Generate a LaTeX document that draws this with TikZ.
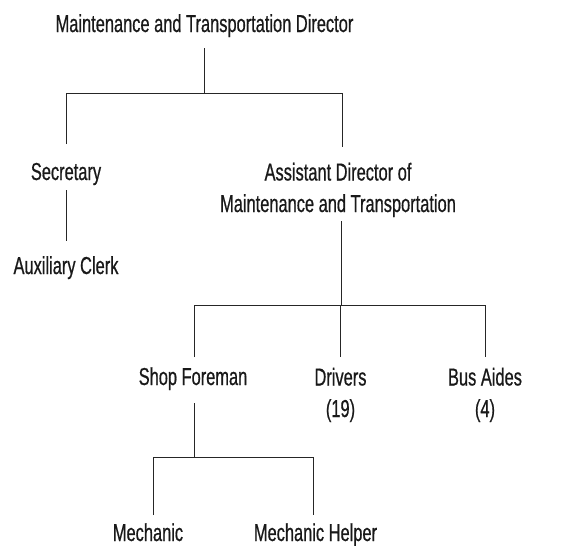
\documentclass[tikz,border=0pt]{standalone}
\usepackage{fontspec}
\setmainfont{Liberation Sans}[FakeStretch=0.67,FakeBold=0.6]
\begin{document}
\begin{tikzpicture}[x=1pt,y=1pt,
  lbl/.style={anchor=base,inner sep=0pt,outer sep=0pt,text=black!90,
    font=\fontsize{24.5}{31.5}\selectfont},
  link/.style={draw=black!85,line width=1pt}]
\useasboundingbox (0,0) rectangle (563,-546);

% positions (base anchor = baseline of the last line)
\node[lbl] (dir) at (204.5,-32) {Maintenance and Transportation Director};
\node[lbl] (sec) at (66,-180) {Secretary};
\node[lbl] (clerk) at (66,-274) {Auxiliary Clerk};
\node[lbl,align=center] (asst) at (338,-212) {Assistant Director of\\Maintenance and Transportation};
\node[lbl] (shop) at (193,-385) {Shop Foreman};
\node[lbl,align=center] (drv) at (340.5,-417) {Drivers\\(19)};
\node[lbl,align=center] (bus) at (485,-417) {Bus Aides\\(4)};
\node[lbl] (mech) at (148,-541) {Mechanic};
\node[lbl] (help) at (315.5,-541) {Mechanic Helper};

% junction levels
\coordinate (j1) at (205,-93);
\coordinate (j2) at (341,-305);
\coordinate (j3) at (194,-457);

% director to secretary and assistant director
\draw[link] ([yshift=-16]dir.base) -- (dir.base |- j1);
\draw[link] ([yshift=36]sec.base) |- ([xshift=4]asst.base |- j1) -- ([xshift=4,yshift=65]asst.base);
\draw[link] ([yshift=-10]sec.base) -- ([yshift=33]clerk.base);

% assistant director to shop, drivers, bus aides
\draw[link] ([xshift=3,yshift=-9]asst.base) -- ([xshift=3]asst.base |- j2);
\draw[link] ([xshift=1,yshift=28]shop.base) |- (bus.base |- j2) -- ([yshift=60]bus.base);
\draw[link] (drv.base |- j2) -- ([yshift=60]drv.base);

% shop foreman to mechanics
\draw[link] ([xshift=1,yshift=-18]shop.base) -- ([xshift=1]shop.base |- j3);
\draw[link] ([xshift=5,yshift=26]mech.base) |- ([xshift=-2.5]help.base |- j3) -- ([xshift=-2.5,yshift=26]help.base);
\end{tikzpicture}
\end{document}
